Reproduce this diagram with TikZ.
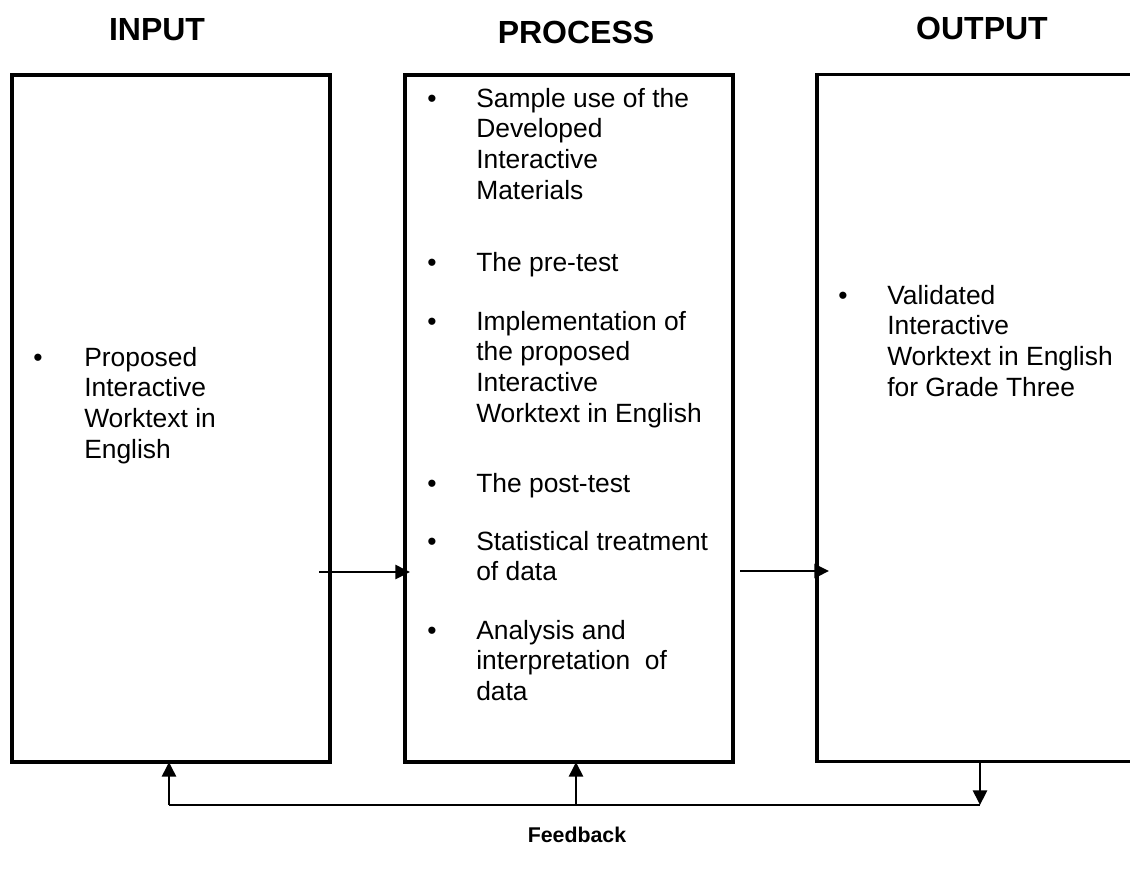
\documentclass[tikz,border=0pt]{standalone}
\usepackage{fontspec}
\setmainfont{Liberation Sans}
\usetikzlibrary{arrows.meta}
\newcommand\bodyfont{\fontsize{19.8}{23}\selectfont}
\newcommand\headfont{\fontsize{24}{28}\selectfont\bfseries}
\newcommand\fbfont{\fontsize{16}{19}\selectfont\bfseries}
\begin{document}
\begin{tikzpicture}[x=0.75pt,y=-0.75pt,
  box/.style={draw, line width=2.6pt, rectangle, anchor=north west,
    inner sep=0, outer sep=0, minimum height=515.25pt},
  head/.style={font=\headfont, inner sep=0},
  blt/.style={font=\bodyfont, anchor=base, inner sep=0},
  itm/.style={font=\bodyfont, anchor=north west, inner sep=0, align=left, yshift=16.1pt},
  conn/.style={line width=2pt},
  arr/.style={conn, -{Triangle[length=11pt,width=10.5pt]}}]
\clip (0,0) rectangle (1130,869);
\fill[white] (0,0) rectangle (1130,869);

% column headings
\node[head] (intitle) at (157,30) {INPUT};
\node[head] (proctitle) at (576,32) {PROCESS};
\node[head] (outtitle) at (982,28) {OUTPUT};

% the three stage boxes (the output box runs off the right edge)
\node[box, minimum width=238.5pt] (inbox) at (12,75) {};
\node[box, minimum width=246pt] (procbox) at (405,75) {};
\node[box, minimum width=257.25pt] (outbox) at (817,74.5) {};

% input
\node[blt] (inb1) at (38,366) {•};
\node[itm] (ini1) at (84,366) {\strut Proposed\\Interactive\\Worktext in\\English};

% process
\node[blt] (pb1) at (432,107) {•};
\node[itm] (pi1) at (476,107) {\strut Sample use of the\\Developed\\Interactive\\Materials};
\node[blt] (pb2) at (432,271) {•};
\node[itm] (pi2) at (476,271) {\strut The pre-test};
\node[blt] (pb3) at (432,330) {•};
\node[itm] (pi3) at (476,330) {\strut Implementation of\\the proposed\\Interactive\\Worktext in English};
\node[blt] (pb4) at (432,492) {•};
\node[itm] (pi4) at (476,492) {\strut The post-test};
\node[blt] (pb5) at (432,550) {•};
\node[itm] (pi5) at (476,550) {\strut Statistical treatment\\of data};
\node[blt] (pb6) at (432,639) {•};
\node[itm] (pi6) at (476,639) {\strut Analysis and\\interpretation\ \ of\\data};

% output
\node[blt] (outb1) at (843,304) {•};
\node[itm] (outi1) at (887,304) {\strut Validated\\Interactive\\Worktext in English\\for Grade Three};

% forward flow
\coordinate (a1) at (319,572);
\coordinate (a2) at (740,571);
\draw[arr, shorten >=-3.75pt] (a1) -- (a1 -| procbox.west);
\draw[arr, shorten >=-9pt] (a2) -- (a2 -| outbox.west);

% feedback loop
\coordinate (fL) at (169,805);
\coordinate (fM) at (576,805);
\coordinate (fR) at (980,805);
\draw[conn] (fL) -- (fR);
\draw[arr] (fL) -- (fL |- inbox.south);
\draw[arr] (fM) -- (fM |- procbox.south);
\draw[arr] (fR |- outbox.south) -- (fR);
\node[font=\fbfont, inner sep=0] (fb) at (577,835) {Feedback};
\end{tikzpicture}
\end{document}
